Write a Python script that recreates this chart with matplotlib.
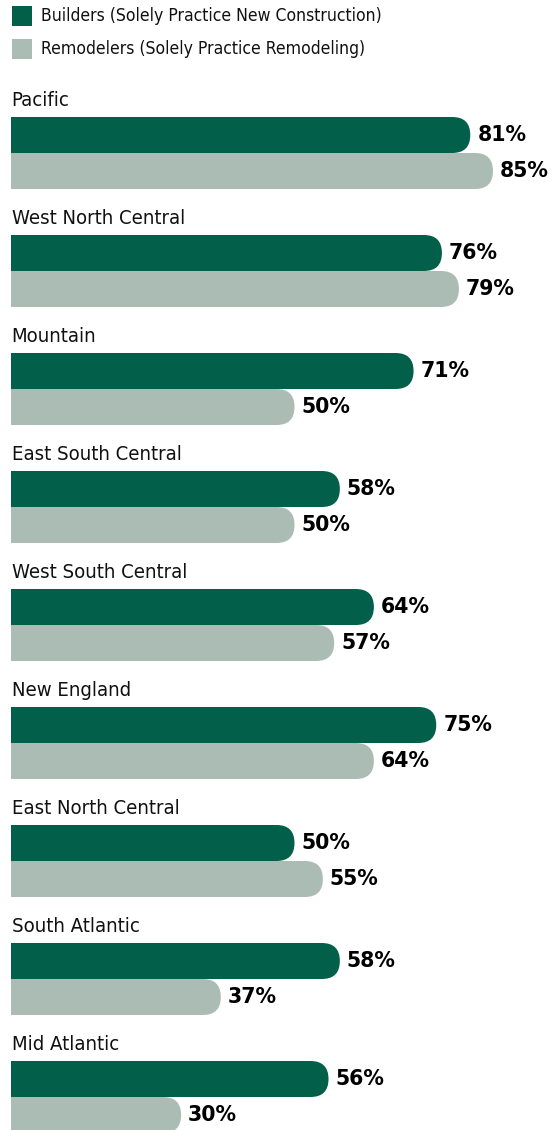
import matplotlib
matplotlib.use("Agg")
from matplotlib import pyplot as plt
from matplotlib.patches import FancyBboxPatch, Rectangle

regions = ['Pacific', 'West North Central', 'Mountain', 'East South Central',
           'West South Central', 'New England', 'East North Central',
           'South Atlantic', 'Mid Atlantic']
builders = [81, 76, 71, 58, 64, 75, 50, 58, 56]
remodelers = [85, 79, 50, 50, 57, 64, 55, 37, 30]
series_names = ['Builders (Solely Practice New Construction)',
                'Remodelers (Solely Practice Remodeling)']

DARK = '#025f49'
LIGHT = '#aabcb3'
W, H = 554, 1130
PX_PER_PCT = 5.67
PX_PER_GROUP = 118.0
BAR_PX = 36.0
ROUND_PX = 18.0

label_kw = dict(family='DejaVu Sans', fontstretch='condensed', fontsize=14.6,
                color='#111111')
legend_kw = dict(label_kw, fontsize=12.6)
value_kw = dict(family='DejaVu Sans', fontweight='bold', fontsize=14.8,
                color='black')

fig = plt.figure(figsize=(W / 100, H / 100), dpi=100)
left = 11 / W
ax = fig.add_axes([left, 0, 1 - left, 1])
ax.set_xlim(0, (W - 11) / PX_PER_PCT)
ax.set_ylim((H - 135) / PX_PER_GROUP, -135 / PX_PER_GROUP)
ax.axis('off')

h = BAR_PX / PX_PER_GROUP
rx = ROUND_PX / PX_PER_PCT
aspect = (1 / PX_PER_GROUP) / (1 / PX_PER_PCT)


def rounded_bar(y, value, color):
    p = FancyBboxPatch((-10, y - h / 2), value + 10, h,
                       boxstyle=f"round,pad=0,rounding_size={rx}",
                       mutation_aspect=aspect, fc=color, ec='none')
    ax.add_patch(p)
    ax.text(value + 7 / PX_PER_PCT, y, f"{value}%", ha='left', va='center',
            **value_kw)


for i, name in enumerate(regions):
    ax.text(0.1, i - 34 / PX_PER_GROUP, name, ha='left', va='center', **label_kw)
    rounded_bar(i, builders[i], DARK)
    rounded_bar(i + h, remodelers[i], LIGHT)

# legend drawn by hand at the top
for k, (name, col) in enumerate(zip(series_names, [DARK, LIGHT])):
    yc = 16 + 33 * k
    fig.add_artist(Rectangle((12 / W, 1 - (yc + 10) / H), 20 / W, 20 / H,
                             transform=fig.transFigure, fc=col, ec='none'))
    fig.text(41 / W, 1 - yc / H, name, ha='left', va='center', **legend_kw)

fig.savefig('out.png', dpi=100)
